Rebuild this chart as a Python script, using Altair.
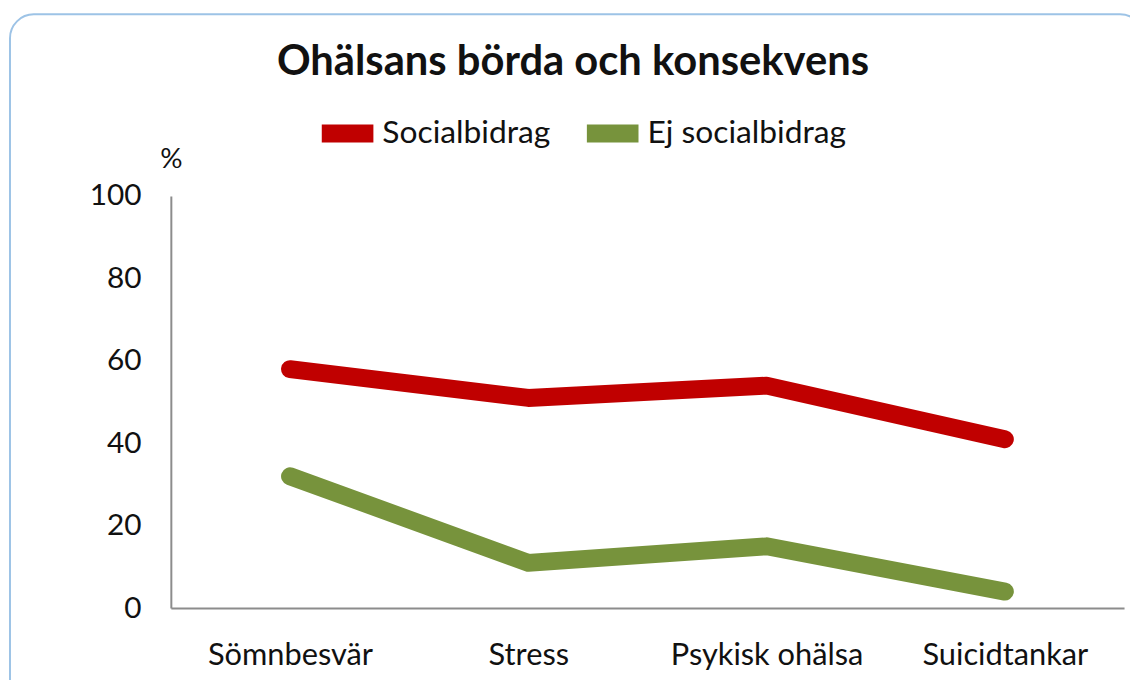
import altair as alt
import pandas as pd

title_text = "Ohälsans börda och konsekvens"
categories = ["Sömnbesvär", "Stress", "Psykisk ohälsa", "Suicidtankar"]
socialbidrag = [58, 51, 54, 41]
ej_socialbidrag = [32, 11, 15, 4]
series_names = ["Socialbidrag", "Ej socialbidrag"]
series_colors = ["#C00000", "#77933C"]
y_ticks = [0, 20, 40, 60, 80, 100]

rows = []
for name, vals in zip(series_names, [socialbidrag, ej_socialbidrag]):
    for i, (c, v) in enumerate(zip(categories, vals)):
        rows.append({"Kategori": c, "Andel": v, "Grupp": name, "idx": i})
df = pd.DataFrame(rows)

FONT = "Lato"
TXT = "#111111"

frame = alt.Chart(alt.Data(values=[{}])).mark_rect(
    fill="white", stroke="#9DC3E6", strokeWidth=2, cornerRadius=24
).encode(x=alt.value(-162), x2=alt.value(980), y=alt.value(-183), y2=alt.value(520))

title = alt.Chart(alt.Data(values=[{"t": title_text}])).mark_text(
    font=FONT, fontSize=42, fontWeight="bold", color=TXT, align="center", baseline="alphabetic"
).encode(text="t:N", x=alt.value(405), y=alt.value(-122))

lines = alt.Chart(df).mark_line(strokeWidth=18, strokeCap="round", strokeJoin="round").encode(
    x=alt.X("Kategori:N", sort=categories,
            scale=alt.Scale(type="point", padding=0.5),
            axis=alt.Axis(title=None, labelAngle=0, ticks=False, labelPadding=33,
                          labelFontSize=31, labelFont=FONT, labelColor=TXT, zindex=1,
                          labelLimit=300,
                          domainColor="#8c8c8c", domainWidth=2, grid=False)),
    y=alt.Y("Andel:Q", scale=alt.Scale(domain=[0, 100]),
            axis=alt.Axis(values=y_ticks, title="%", titleAngle=0, titleX=0, titleY=-37,
                          titleAlign="center", titleBaseline="middle", titleFontSize=28,
                          titleFont=FONT, titleFontWeight="normal", titleColor=TXT, zindex=1,
                          ticks=False, grid=False, labelPadding=30, labelFontSize=30,
                          labelFont=FONT, labelColor=TXT, domainColor="#8c8c8c", domainWidth=2)),
    color=alt.Color("Grupp:N", sort=series_names,
                    scale=alt.Scale(domain=series_names, range=series_colors),
                    legend=alt.Legend(orient="none", legendX=143, legendY=-98, direction="horizontal",
                                      title=None, symbolType="stroke", symbolStrokeWidth=18,
                                      symbolSize=2704, labelFontSize=32, labelFont=FONT,
                                      labelColor=TXT, columnPadding=0, labelOffset=0,
                                      labelLimit=400)),
    order=alt.Order("idx:Q"),
)

chart = alt.layer(frame, title, lines).properties(
    width=960, height=415,
    autosize=alt.AutoSizeParams(type="none"),
    padding={"left": 164, "top": 187, "right": 6, "bottom": 70},
    background="white",
).configure_view(stroke=None)

chart.save("out.html", embed_options={"renderer": "svg", "actions": False})
